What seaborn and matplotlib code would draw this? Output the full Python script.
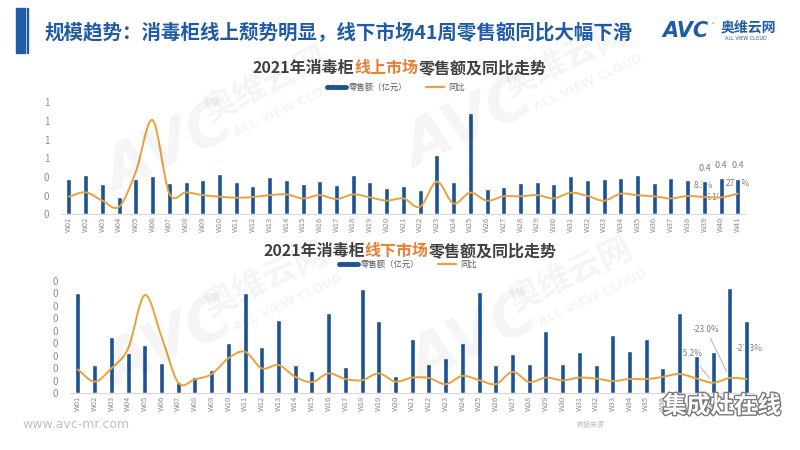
import matplotlib
matplotlib.use("Agg")
import numpy as np
import pandas as pd
import matplotlib.pyplot as plt
import seaborn as sns
from matplotlib.path import Path
from matplotlib.patches import PathPatch, Rectangle
from matplotlib.lines import Line2D
import matplotlib.patheffects as pe

# dados (零售额 em 亿元, 同比 em %)
weeks = ["W%02d" % i for i in range(1, 42)]

online_sales = [0.376, 0.426, 0.323, 0.181, 0.376, 0.415, 0.333, 0.348, 0.369, 0.429,
                0.348, 0.301, 0.401, 0.369, 0.323, 0.355, 0.309, 0.422, 0.344, 0.287,
                0.301, 0.262, 0.631, 0.348, 1.085, 0.270, 0.294, 0.337, 0.348, 0.330,
                0.415, 0.369, 0.379, 0.387, 0.422, 0.337, 0.387, 0.369, 0.358, 0.387, 0.383]
online_yoy = [10, 35, -13, -48, 154, 452, 29, 35, 19, 10,
              4, 8, 19, 23, 0, 19, -4, 23, 6, -13,
              0, -48, 96, -29, 33, -13, 12, 12, 19, 0,
              33, 14, -13, 27, 18, 12, 0, 14, 8.3, 6.1, 27.2]

offline_sales = [0.401, 0.112, 0.224, 0.161, 0.192, 0.121, 0.045, 0.067, 0.093, 0.200,
                 0.401, 0.187, 0.292, 0.113, 0.088, 0.319, 0.104, 0.416, 0.289, 0.071,
                 0.219, 0.116, 0.141, 0.200, 0.404, 0.113, 0.156, 0.119, 0.248, 0.116,
                 0.165, 0.113, 0.231, 0.171, 0.216, 0.100, 0.319, 0.151, 0.167, 0.421, 0.289]
offline_yoy = [18, -40, 23, 118, 372, 174, -45, -29, -4, 71,
               102, 23, 39, -17, -42, -1, -28, -33, -1, -40,
               -21, -23, -52, -13, -33, -52, 6, -42, -21, -34,
               -21, -26, -37, -28, -28, -17, -4, -25, -45.2, -23.0, -27.3]

BLUE = "#1d5293"
ORANGE = "#e9a23b"
TITLE_BLUE = "#1f5ba8"
GRAY = "#8c8c8c"

sns.set_style("white")
plt.rcParams["font.family"] = ["Noto Sans CJK SC", "DejaVu Sans"]

W, H = 800, 450
fig = plt.figure(figsize=(8, 4.5), dpi=100)


def fx(px):
    return px / W


def fy(py):
    return 1 - py / H


def smooth_path(xs, ys):
    # curva suave estilo Excel (Catmull-Rom -> Bezier)
    n = len(xs)
    verts = [(xs[0], ys[0])]
    codes = [Path.MOVETO]
    for i in range(n - 1):
        a = i - 1 if i > 0 else i
        d = i + 2 if i + 2 < n else i + 1
        c1 = (xs[i] + (xs[i + 1] - xs[a]) / 6, ys[i] + (ys[i + 1] - ys[a]) / 6)
        c2 = (xs[i + 1] - (xs[d] - xs[i]) / 6, ys[i + 1] - (ys[d] - ys[i]) / 6)
        verts += [c1, c2, (xs[i + 1], ys[i + 1])]
        codes += [Path.CURVE4] * 3
    return Path(verts, codes)


def draw_panel(rect, sales, yoy, ylim, yticks, ylim2):
    ax = fig.add_axes(rect)
    sns.barplot(x=weeks, y=sales, ax=ax, color=BLUE, saturation=1, width=0.3)
    ax.set_xlim(-0.5, len(weeks) - 0.5)
    ax.set_ylim(*ylim)
    ax.set_yticks(yticks)
    ax.set_yticklabels(["%.0f" % v for v in yticks])
    ax.set_xlabel("")
    ax.set_ylabel("")
    for s in ["top", "right", "left"]:
        ax.spines[s].set_visible(False)
    ax.spines["bottom"].set_color("#d9d9d9")
    ax.tick_params(axis="y", length=0, pad=8, labelsize=7, labelcolor=GRAY)
    ax.tick_params(axis="x", length=0, pad=2, labelsize=5.5, labelcolor=GRAY, labelrotation=90)
    ax2 = ax.twinx()
    ax2.set_ylim(*ylim2)
    ax2.set_axis_off()
    xs = np.arange(len(yoy))
    ax2.add_patch(PathPatch(smooth_path(xs, yoy), fill=False, edgecolor=ORANGE,
                            lw=1.4, capstyle="round", joinstyle="round"))
    return ax, ax2


def mixed_title(x_px, y_px, parts, size):
    r = fig.canvas.get_renderer()
    x = fx(x_px)
    for txt, col in parts:
        t = fig.text(x, fy(y_px), txt, color=col, fontsize=size, fontweight="bold",
                     ha="left", va="center")
        x += t.get_window_extent(renderer=r).width / W


# cabeçalho
fig.patches.append(Rectangle((fx(16), fy(53)), fx(9), 45 / H, transform=fig.transFigure,
                             color=TITLE_BLUE, zorder=2))
fig.patches.append(Rectangle((fx(26.5), fy(53)), fx(1.8), 45 / H, transform=fig.transFigure,
                             color=TITLE_BLUE, zorder=2))
fig.text(fx(45), fy(32), "规模趋势：消毒柜线上颓势明显，线下市场41周零售额同比大幅下滑",
         color=TITLE_BLUE, fontsize=14, fontweight="bold", ha="left", va="center")
fig.text(fx(662), fy(31), "AVC", color=TITLE_BLUE, fontsize=15, fontweight="bold",
         fontstyle="italic", family="DejaVu Sans", ha="left", va="center")
fig.text(fx(713), fy(23), "•", color="#f0a030", fontsize=6, ha="center", va="center")
fig.text(fx(748), fy(28), "奥维云网", color=TITLE_BLUE, fontsize=10, fontweight="bold",
         ha="center", va="center")
fig.text(fx(746), fy(39), "ALL VIEW CLOUD", color=TITLE_BLUE, fontsize=3.5,
         family="DejaVu Sans", ha="center", va="center")

# painel de cima: linha online
ax_t, ax_t2 = draw_panel([fx(60.6), fy(214.3), fx(746.2) - fx(60.6), 112 / H],
                         online_sales, online_yoy, (0, 1.2),
                         [0, 0.2, 0.4, 0.6, 0.8, 1.0, 1.2], (-91.7, 554.5))
mixed_title(253, 68, [("2021年消毒柜", "#404040"), ("线上市场", "#ed7d31"),
                      ("零售额及同比走势", "#404040")], 11.5)

# painel de baixo: linha offline
ax_b, ax_b2 = draw_panel([fx(69.6), fy(393.3), fx(754.9) - fx(69.6), 112.6 / H],
                         offline_sales, offline_yoy, (0, 0.45),
                         [round(0.05 * k, 2) for k in range(10)], (-95.7, 440.5))
mixed_title(263, 251, [("2021年消毒柜", "#404040"), ("线下市场", "#ed7d31"),
                       ("零售额及同比走势", "#404040")], 11.5)

# legendas
handles = [Line2D([], [], color=BLUE, lw=3.5), Line2D([], [], color=ORANGE, lw=1.6)]
labels = ["零售额（亿元）", "同比"]
for cx, cy in [(396, 87), (408, 264)]:
    fig.legend(handles, labels, loc="center", bbox_to_anchor=(fx(cx), fy(cy)), ncol=2,
               frameon=False, fontsize=6, labelcolor="#595959", handlelength=2.2,
               handletextpad=0.4, columnspacing=2.2)

# rótulos de dados no fim das séries
for i in [38, 39, 40]:
    ax_t.annotate("%.1f" % online_sales[i], xy=(i, online_sales[i]), xytext=(0, 6),
                  textcoords="offset points", ha="center", va="bottom", fontsize=6.5,
                  color="#7f7f7f")
for i, (dx, dy) in zip([38, 39, 40], [(-1, 8), (-4, 0), (0, 7)]):
    ax_t.annotate("%.1f%%" % online_yoy[i], xy=(i, online_yoy[i]), xycoords=ax_t2.transData,
                  xytext=(dx, dy), textcoords="offset points", ha="center", va="center",
                  fontsize=6, color="#7f7f7f", zorder=0.5)
for i, (dx, dy) in zip([38, 39, 40], [(-17, 21), (-17, 35), (2, 22)]):
    ax_b.annotate("%.1f%%" % offline_yoy[i], xy=(i, offline_yoy[i]), xycoords=ax_b2.transData,
                  xytext=(dx, dy), textcoords="offset points", ha="center", va="center",
                  fontsize=6, color="#7f7f7f", zorder=0.5,
                  arrowprops=dict(arrowstyle="-", color="#a6a6a6", lw=0.6, shrinkA=1, shrinkB=4))

# marcas d'água
wm = dict(color="#000000", alpha=0.045, fontweight="bold", rotation=25, ha="center", va="center")
for x0, y0 in [(170, 150), (470, 125), (170, 345), (475, 340)]:
    fig.text(fx(x0), fy(y0), "AVC", fontsize=44, fontstyle="italic", family="DejaVu Sans", **wm)
    fig.text(fx(x0 + 95), fy(y0 - 65), "奥维云网", fontsize=24, **wm)
    fig.text(fx(x0 + 118), fy(y0 - 42), "ALL VIEW CLOUD", fontsize=9, family="DejaVu Sans", **wm)

# rodapé
fig.text(fx(22), fy(425), "www.avc-mr.com", color="#bfbfbf", fontsize=9,
         family="DejaVu Sans", ha="left", va="center")
fig.text(fx(577), fy(425), "数据来源", color="#bfbfbf", fontsize=5, ha="left", va="center")
fig.text(fx(722), fy(406), "集成灶在线", color="white", fontsize=17, fontweight="bold",
         ha="center", va="center",
         path_effects=[pe.withStroke(linewidth=2.0, foreground="#7a7a7a")])

fig.savefig("out.png", dpi=100)
